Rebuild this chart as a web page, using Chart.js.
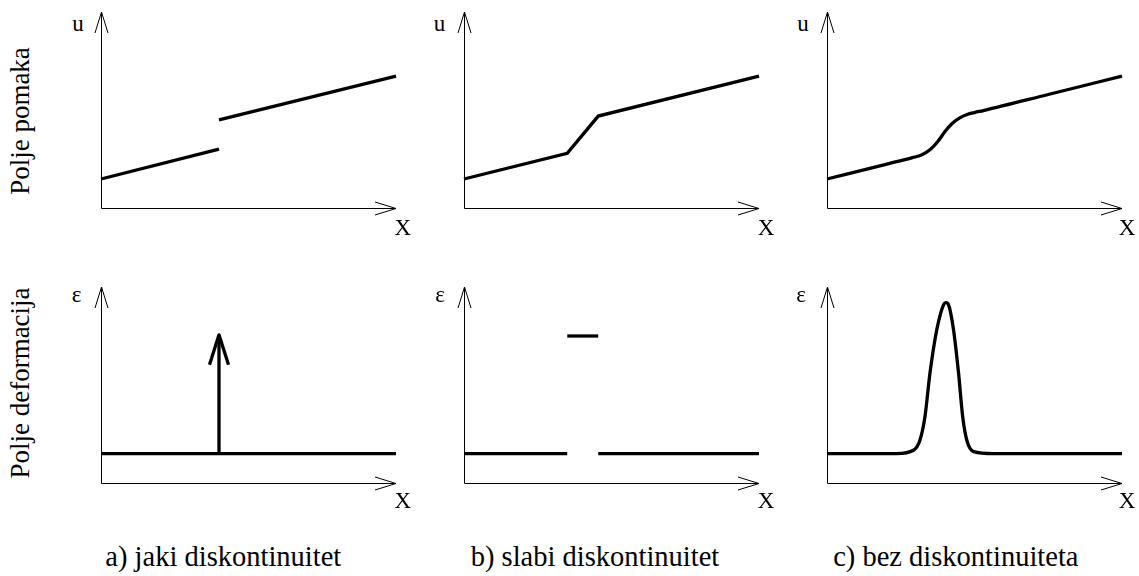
<!DOCTYPE html>
<html><head><meta charset="utf-8">
<script src="https://cdn.jsdelivr.net/npm/chart.js@4"></script>
<style>
html,body{margin:0;padding:0;background:#fff;}
body{width:1139px;height:576px;position:relative;overflow:hidden;color:#000;font-family:'Liberation Serif',serif;}
canvas{position:absolute;}
.t{position:absolute;line-height:1;white-space:nowrap;transform-origin:0 0;font-family:'Liberation Serif',serif;}
</style></head><body>
<div class="t" style="font-size:27px;left:30px;top:121px;transform:rotate(-90deg) translate(-50%,-0.8375em)">Polje pomaka</div>
<div class="t" style="font-size:27px;left:30px;top:383px;transform:rotate(-90deg) translate(-50%,-0.8375em)">Polje deformacija</div>
<div class="t" style="font-size:28.5px;left:223.3px;top:566.7px;transform:translate(-50%,-0.8375em)">a) jaki diskontinuitet</div>
<div class="t" style="font-size:28.5px;left:595px;top:566.7px;transform:translate(-50%,-0.8375em)">b) slabi diskontinuitet</div>
<div class="t" style="font-size:28.5px;left:955.8px;top:566.7px;transform:translate(-50%,-0.8375em)">c) bez diskontinuiteta</div>
<script>
// ---------- data ----------
const axisMin = 0, axisMax = 10;
// top row: displacement u(x)
const strongLowX = [0, 4], strongLowU = [1.48, 3.0];
const strongHighX = [4, 10], strongHighU = [4.5, 6.73];
const weakX = [0, 3.5, 4.55, 10], weakU = [1.48, 2.79, 4.69, 6.73];
const smoothX = [0, 2, 2.9, 3.2, 3.5, 3.75, 4.0, 4.25, 4.5, 4.75, 5.0, 5.3, 7.5, 10];
const smoothU = [1.48, 2.23, 2.57, 2.7, 2.98, 3.38, 3.9, 4.32, 4.6, 4.77, 4.87, 4.97, 5.79, 6.73];
// bottom row: strain eps(x)
const strainBaseX = [0, 10], strainBaseE = [1.5, 1.5];
const deltaX = [4, 4], deltaE = [1.5, 7.56];
const weakBaseLeftX = [0, 3.5], weakBaseRightX = [4.55, 10], weakBaseE = [1.5, 1.5];
const weakBandX = [3.5, 4.55], weakBandE = [7.5, 7.5];
const peakX = [0, 2.36, 2.93, 3.15, 3.32, 3.49, 3.72, 3.95, 4.03, 4.12, 4.29, 4.46, 4.6, 4.74, 4.97, 5.65, 10];
const peakE = [1.5, 1.5, 1.67, 2.18, 3.38, 5.6, 7.81, 9.09, 9.2, 9.09, 7.81, 5.6, 3.38, 2.18, 1.6, 1.5, 1.5];
// axis labels
const yAxisLabels = ["u", "\u03b5"];
const xAxisLabel = "X";

// ---------- layout ----------
const colLeft = [101, 463.5, 827];
const rowTop = [12, 287];
const plotW = 295, plotH = 196, pad = 14;
const LW = 3.3;

function pts(xs, ys) { return xs.map((x, i) => ({ x: x, y: ys[i] })); }
function ds(xs, ys, smooth) {
  return {
    data: pts(xs, ys), showLine: true, pointRadius: 0, borderColor: '#000',
    borderWidth: LW, fill: false, clip: false, borderCapStyle: 'butt', borderJoinStyle: 'miter',
    cubicInterpolationMode: smooth ? 'monotone' : 'default', tension: 0
  };
}

const axesPlugin = {
  id: 'arrowAxes',
  afterDatasetsDraw(chart, args, opts) {
    const ctx = chart.ctx, xs = chart.scales.x, ys = chart.scales.y;
    const x0 = Math.round(xs.getPixelForValue(axisMin)) + 0.5;
    const x1 = xs.getPixelForValue(axisMax);
    const y0 = Math.round(ys.getPixelForValue(axisMin)) + 0.5;
    const y1 = ys.getPixelForValue(axisMax);
    ctx.save();
    ctx.strokeStyle = '#000'; ctx.lineWidth = 1; ctx.lineJoin = 'miter';
    ctx.beginPath();
    ctx.moveTo(x0, y0); ctx.lineTo(x0, y1);
    ctx.moveTo(x0, y0); ctx.lineTo(x1, y0);
    ctx.moveTo(x0 - 6.5, y1 + 21); ctx.lineTo(x0, y1); ctx.lineTo(x0 + 6.5, y1 + 21);
    ctx.moveTo(x1 - 21, y0 - 6.5); ctx.lineTo(x1, y0); ctx.lineTo(x1 - 21, y0 + 6.5);
    ctx.stroke();
    if (opts && opts.delta) {
      const px = xs.getPixelForValue(deltaX[1]), py = ys.getPixelForValue(deltaE[1]);
      ctx.lineWidth = LW; ctx.lineJoin = 'round'; ctx.lineCap = 'butt';
      ctx.beginPath();
      ctx.moveTo(px - 9.5, py + 30); ctx.lineTo(px, py); ctx.lineTo(px + 9.5, py + 30);
      ctx.stroke();
    }
    ctx.restore();
  }
};

function panel(col, row, datasets, delta) {
  const c = document.createElement('canvas');
  const w = plotW + 2 * pad, h = plotH + 2 * pad;
  c.width = w; c.height = h;
  c.style.width = w + 'px'; c.style.height = h + 'px';
  c.style.left = (colLeft[col] - pad) + 'px';
  c.style.top = (rowTop[row] - pad) + 'px';
  document.body.appendChild(c);
  new Chart(c, {
    type: 'scatter',
    data: { datasets: datasets },
    options: {
      responsive: false, animation: false, devicePixelRatio: 1,
      layout: { padding: pad },
      plugins: { legend: { display: false }, tooltip: { enabled: false }, arrowAxes: { delta: !!delta } },
      scales: {
        x: { type: 'linear', min: axisMin, max: axisMax, display: false },
        y: { type: 'linear', min: axisMin, max: axisMax, display: false }
      }
    },
    plugins: [axesPlugin]
  });
}

panel(0, 0, [ds(strongLowX, strongLowU), ds(strongHighX, strongHighU)]);
panel(1, 0, [ds(weakX, weakU)]);
panel(2, 0, [ds(smoothX, smoothU, true)]);
panel(0, 1, [ds(strainBaseX, strainBaseE), ds(deltaX, deltaE)], true);
panel(1, 1, [ds(weakBaseLeftX, weakBaseE), ds(weakBaseRightX, weakBaseE), ds(weakBandX, weakBandE)]);
panel(2, 1, [ds(peakX, peakE, true)]);

// ---------- axis letters ----------
function txt(s, x, baseY, size) {
  const d = document.createElement('div');
  d.className = 't'; d.textContent = s;
  d.style.fontSize = size + 'px';
  d.style.left = x + 'px'; d.style.top = baseY + 'px';
  d.style.transform = 'translate(-50%, -0.8375em)';
  document.body.appendChild(d);
}
const uX = [78, 439.5, 803], epsX = [76.7, 440, 801], xLabX = [402.7, 766, 1127];
for (let i = 0; i < 3; i++) {
  txt(yAxisLabels[0], uX[i], 30.7, 23);
  txt(yAxisLabels[1], epsX[i], 302.3, 23);
  txt(xAxisLabel, xLabX[i], 235, 23);
  txt(xAxisLabel, xLabX[i], 508.3, 23);
}
</script>
</body></html>
